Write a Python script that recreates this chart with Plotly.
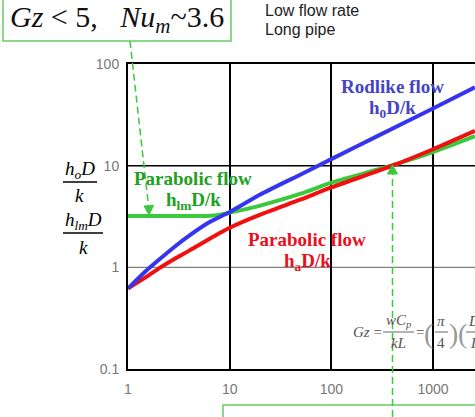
import math
import plotly.graph_objects as go

# ---------------- data ----------------
gz_rod = [1, 1.5, 2, 3, 4, 6, 10, 20, 50, 100, 300, 1000, 2580]
nu_rod = [0.62, 0.92, 1.18, 1.65, 2.05, 2.7, 3.5, 5.2, 8.2, 11.6, 20.1, 36.5, 59]

gz_par_a = [1, 1.5, 2, 3, 4, 6, 10, 20, 50, 100, 400, 1000, 2580]
nu_par_a = [0.62, 0.8, 0.97, 1.24, 1.46, 1.85, 2.45, 3.3, 4.65, 6.1, 10.0, 14.5, 22.0]

gz_par_lm = [1, 3, 5, 6.5, 8, 10, 13, 20, 50, 100, 350, 1000, 2580]
nu_par_lm = [3.2, 3.2, 3.2, 3.22, 3.3, 3.45, 3.65, 4.05, 5.3, 6.8, 9.7, 13.6, 19.5]

x_ticks = [1, 10, 100, 1000]
x_tick_text = ["1", "10", "100", "1000"]
y_ticks = [0.1, 1, 10, 100]
y_tick_text = ["0.1", "1", "10", "100"]

# ---------------- geometry helpers ----------------
FW, FH = 475, 417
ML, MR, MT, MB = 128, 0, 64, 48
PW, PH = FW - ML - MR, FH - MT - MB
DECADE = PH / 3.0


def px(x):
    return (x - ML) / PW


def py(y):
    return (MT + PH - y) / PH


SERIF = "Liberation Serif, Times New Roman, serif"
SANS = "Liberation Sans, Arial, sans-serif"

BLUE = "#3535f0"
RED = "#f01010"
GREEN = "#3cc83c"
BLUE_T = "#4444c4"
RED_T = "#e8101c"
GREEN_T = "#22a022"
LGREEN = "#66cc66"

fig = go.Figure()
fig.add_trace(go.Scatter(x=gz_par_lm, y=nu_par_lm, mode="lines",
                         line=dict(color=GREEN, width=4, shape="spline", smoothing=0.6),
                         hoverinfo="skip"))
fig.add_trace(go.Scatter(x=gz_par_a, y=nu_par_a, mode="lines",
                         line=dict(color=RED, width=4, shape="spline", smoothing=0.6),
                         hoverinfo="skip"))
fig.add_trace(go.Scatter(x=gz_rod, y=nu_rod, mode="lines",
                         line=dict(color=BLUE, width=4, shape="spline", smoothing=0.6),
                         hoverinfo="skip"))

shapes = []
# horizontal grid lines: gray at 1, black at 10 (below the curves)
shapes.append(dict(type="line", xref="paper", yref="y", x0=0, x1=1, y0=1, y1=1,
                   line=dict(color="#808080", width=1.2), layer="below"))
shapes.append(dict(type="line", xref="paper", yref="y", x0=0, x1=1, y0=10, y1=10,
                   line=dict(color="black", width=1.5), layer="below"))


def pline(x0, y0, x1, y1, color="black", width=1.5, dash=None):
    d = dict(type="line", xref="paper", yref="paper",
             x0=px(x0), y0=py(y0), x1=px(x1), y1=py(y1),
             line=dict(color=color, width=width))
    if dash:
        d["line"]["dash"] = dash
    shapes.append(d)


def ptri(pts, color):
    path = "M " + " L ".join(f"{px(a):.5f},{py(b):.5f}" for a, b in pts) + " Z"
    shapes.append(dict(type="path", xref="paper", yref="paper", path=path,
                       fillcolor=color, line=dict(color=color, width=1)))


# top and bottom green boxes
shapes.append(dict(type="rect", xref="paper", yref="paper",
                   x0=px(3), x1=px(231), y0=py(41), y1=py(-10),
                   line=dict(color=LGREEN, width=1.5)))
shapes.append(dict(type="rect", xref="paper", yref="paper",
                   x0=px(223), x1=px(490), y0=py(430), y1=py(405),
                   line=dict(color=LGREEN, width=1.5)))

# dashed arrows
pline(130, 41, 148.5, 206, color=GREEN, width=1.5, dash="7px,4px")
ptri([(149, 215), (144, 206), (153.5, 205.5)], GREEN)
pline(392.5, 417, 392.5, 174, color=GREEN, width=1.5, dash="7px,4px")
ptri([(392.5, 165), (387.5, 174), (397.5, 174)], GREEN)

# axis-title fraction bars
pline(63, 182, 97, 182, width=1.5)
pline(63, 233, 103, 233, width=1.5)
# formula fraction bars
pline(383, 332, 414, 332, color="#666", width=1)
pline(435, 332, 448, 332, color="#666", width=1)
pline(466, 332, 485, 332, color="#666", width=1)

annotations = []


def ann(x, y, text, size, color="black", family=SERIF, xanchor="center"):
    annotations.append(dict(xref="paper", yref="paper", x=px(x), y=py(y), text=text,
                            showarrow=False, xanchor=xanchor, yanchor="middle",
                            font=dict(size=size, color=color, family=family)))


# curve labels
ann(392, 86, "<b>Rodlike flow</b>", 19, BLUE_T)
ann(392, 109, "<b>h<sub>0</sub>D/k</b>", 19, BLUE_T)
ann(193, 178, "<b>Parabolic flow</b>", 19, GREEN_T)
ann(193, 201, "<b>h<sub>lm</sub>D/k</b>", 19, GREEN_T)
ann(307, 239, "<b>Parabolic flow</b>", 19, RED_T)
ann(307, 262, "<b>h<sub>a</sub>D/k</b>", 19, RED_T)

# y-axis title (two fractions)
ann(80, 170, "<i>h<sub>o</sub>D</i>", 19)
ann(79, 196, "<i>k</i>", 19)
ann(83, 221, "<i>h<sub>lm</sub>D</i>", 19)
ann(83, 247, "<i>k</i>", 19)

# top box text
nb = "\u00a0"
ann(8, 19, "<i>Gz</i> &lt; 5," + nb * 3 + "<i>Nu</i><sub><i>m</i></sub>~3.6", 30,
    "#111", xanchor="left")
ann(263, 11, "Low flow rate", 16, "#222", SANS, xanchor="left")
ann(263, 29, "Long pipe", 16, "#222", SANS, xanchor="left")

# Graetz number formula
G = "#555"
ann(367, 332, "<i>Gz</i> =", 15, G)
ann(398, 321, "<i>wC<sub>p</sub></i>", 15, G)
ann(398, 343, "<i>kL</i>", 15, G)
ann(420, 332, "=", 15, G)
ann(428, 333, "(", 28, "#999")
ann(441, 321, "<i>π</i>", 15, G)
ann(441, 343, "4", 15, G)
ann(453, 333, ")", 28, "#999")
ann(462, 333, "(", 28, "#999")
ann(474, 321, "<i>D</i>", 15, G)
ann(474, 343, "<i>L</i>", 15, G)

fig.update_layout(
    width=FW, height=FH,
    margin=dict(l=ML, r=MR, t=MT, b=MB, pad=0),
    paper_bgcolor="white", plot_bgcolor="white",
    showlegend=False,
    shapes=shapes,
    annotations=annotations,
    xaxis=dict(type="log", range=[0, PW / DECADE],
               tickvals=x_ticks, ticktext=x_tick_text, ticks="",
               showgrid=True, gridcolor="black", gridwidth=1.5,
               showline=True, linecolor="black", linewidth=2, mirror=True,
               tickfont=dict(family=SANS, size=14, color="#777"),
               ticklabelstandoff=6, zeroline=False),
    yaxis=dict(type="log", range=[-1, 2],
               tickvals=y_ticks, ticktext=y_tick_text, ticks="",
               showgrid=False,
               showline=True, linecolor="black", linewidth=2, mirror=False,
               tickfont=dict(family=SANS, size=14, color="#777"),
               ticklabelstandoff=4, zeroline=False),
)

fig.write_html("out.html")
